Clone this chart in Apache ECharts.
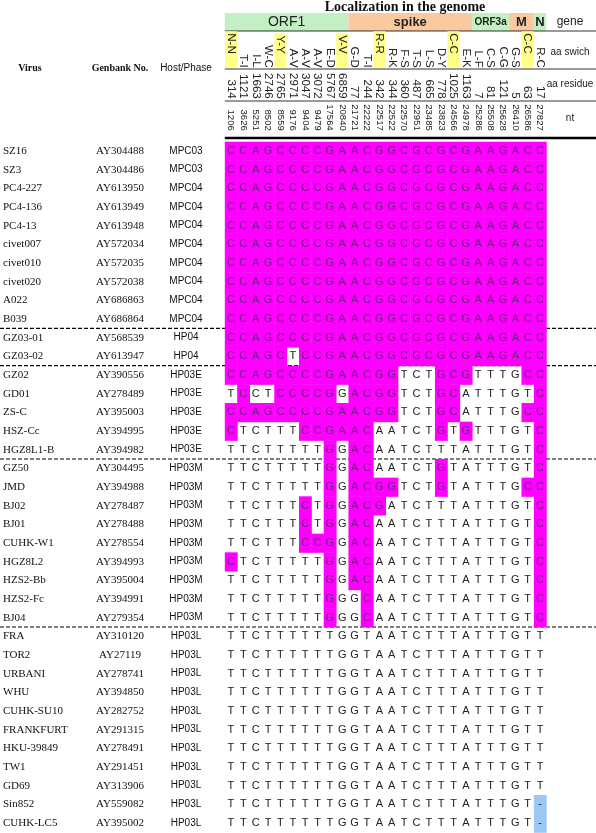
<!DOCTYPE html>
<html><head><meta charset="utf-8">
<script src="https://cdn.jsdelivr.net/npm/echarts@6/dist/echarts.min.js"></script>
<style>html,body{margin:0;padding:0;background:#fff}#c{width:596px;height:833px}</style>
</head><body><div id="c"></div>
<script>
const aaSwitch=['N-N','T-I','I-L','W-C','Y-Y','A-V','A-V','A-V','E-D','V-V','G-D','T-I','R-R','R-K','F-S','T-S','L-S','D-Y','C-C','E-K','L-F','C-S','C-G','G-S','C-C','R-C'];
const aaYellow=[0,4,9,12,18,24];
const aaResidue=['314','1121','1663','2746','2765','2971','3047','3072','5767','6859','77','244','342','344','360','487','665','778','1025','1163','7','81','121','5','63','17'];
const ntPos=['1206','3626','5251','8502','8559','9176','9404','9479','17564','20840','21721','22222','22517','22522','22570','22951','23485','23823','24566','24978','25286','25508','25628','26410','26586','27827'];
const genes=[['ORF1',0,10,'#c2f0c2'],['spike',10,10,'#fbc9a0'],['ORF3a',20,3,'#c2f0c2'],['M',23,2,'#fbc9a0'],['N',25,1,'#c2f0c2']];
const viruses=['SZ16','SZ3','PC4-227','PC4-136','PC4-13','civet007','civet010','civet020','A022','B039','GZ03-01','GZ03-02','GZ02','GD01','ZS-C','HSZ-Cc','HGZ8L1-B','GZ50','JMD','BJ02','BJ01','CUHK-W1','HGZ8L2','HZS2-Bb','HZS2-Fc','BJ04','FRA','TOR2','URBANI','WHU','CUHK-SU10','FRANKFURT','HKU-39849','TW1','GD69','Sin852','CUHK-LC5'];
const genbank=['AY304488','AY304486','AY613950','AY613949','AY613948','AY572034','AY572035','AY572038','AY686863','AY686864','AY568539','AY613947','AY390556','AY278489','AY395003','AY394995','AY394982','AY304495','AY394988','AY278487','AY278488','AY278554','AY394993','AY395004','AY394991','AY279354','AY310120','AY27119','AY278741','AY394850','AY282752','AY291315','AY278491','AY291451','AY313906','AY559082','AY395002'];
const hosts=['MPC03','MPC03','MPC04','MPC04','MPC04','MPC04','MPC04','MPC04','MPC04','MPC04','HP04','HP04','HP03E','HP03E','HP03E','HP03E','HP03E','HP03M','HP03M','HP03M','HP03M','HP03M','HP03M','HP03M','HP03M','HP03M','HP03L','HP03L','HP03L','HP03L','HP03L','HP03L','HP03L','HP03L','HP03L','HP03L','HP03L'];
const R='CCAGCCCCGAACGGCGCGCGAAGACC', L='TTCTTTTTTGGTAATCTTTATTTGTT';
const seqs=[R,R,R,R,R,R,R,R,R,R,R,'CCAGCTCCGAACGGCGCGCGAAGACC',
'CCAGCCCCGAACGGTCTGCGTTTGCC','TCCTCCCCGGACGGTCTGCATTTGTC','CCAGCCCCGAACGGTCTGCATTTGCC','CTCTTTCCGAACAATCTGTGTTTGTC','TTCTTTTTGGACAATCTTTATTTGTC',
'TTCTTTTTGGACAATCTGTATTTGTC','TTCTTTTTGGACGGTCTGTATTTGCC','TTCTTTCTGGACGATCTTTATTTGTC','TTCTTTCTGGACAATCTTTATTTGTC','TTCTTTCCGGACAATCTTTATTTGTC','CTCTTTTTGGACAATCTTTATTTGTC','TTCTTTTTGGACAATCTTTATTTGTC','TTCTTTTTGGGCAATCTTTATTTGTC','TTCTTTTTGGGCAATCTTTATTTGTC',
L,L,L,L,L,L,L,L,L,'TTCTTTTTTGGTAATCTTTATTTGT-','TTCTTTTTTGGTAATCTTTATTTGT-'];

const cells=[];
seqs.forEach((s,r)=>{for(let c=0;c<26;c++){const ch=s[c];let h=0;if(ch==='-')h=2;else if(ch===R[c])h=1;cells.push([c,r,ch,h]);}});
const left=viruses.map((v,i)=>[0,i,v,genbank[i],hosts[i]]);

const chart=echarts.init(document.getElementById('c'));
const gridT=141.7,gridL=224.8,gridR=49.8;
const hdr=(d,off,fs)=>({type:'category',data:d,gridIndex:0,position:'top',offset:off,
 axisLine:{show:false},axisTick:{show:false},splitLine:{show:false},
 axisLabel:{interval:0,rotate:90,margin:off>60?1:2,fontSize:fs,color:'#222',fontFamily:'Liberation Sans',
 formatter:(v,i)=>off>60&&aaYellow.includes(i)?'{h|'+v+'}':v,
 rich:{h:{backgroundColor:'#ffff88',padding:[0,14,0,2],fontSize:fs,lineHeight:12}}}});
chart.setOption({
 animation:false,
 grid:{left:gridL,right:gridR,top:gridT,bottom:0.7},
 xAxis:[{type:'value',min:-0.5,max:25.5,show:false},hdr(aaSwitch,73,11.5),hdr(aaResidue,41,11.5),hdr(ntPos,9,9.5)],
 yAxis:{type:'category',data:viruses,inverse:true,show:false},
 series:[{type:'custom',data:cells,renderItem:(p,api)=>{
   const pt=api.coord([api.value(0),api.value(1)]);const sz=api.size([1,1]);const h=api.value(3);
   const ch=[];
   if(h)ch.push({type:'rect',shape:{x:pt[0]-sz[0]/2,y:pt[1]-sz[1]/2,width:sz[0]+0.5,height:sz[1]+0.5},style:{fill:h===2?'#9cc8f4':'#ff00ff'}});
   ch.push({type:'text',x:pt[0],y:pt[1],style:{text:cells[p.dataIndex][2],fill:h===1?'#6a2080':'#222',font:'11px Liberation Sans',align:'center',verticalAlign:'middle'}});
   return {type:'group',children:ch};}},
  {type:'custom',data:left,renderItem:(p,api)=>{
   const pt=api.coord([0,api.value(1)]);const d=left[p.dataIndex];
   return {type:'group',children:[
    {type:'text',x:3,y:pt[1],style:{text:d[2],font:'11px Liberation Serif',fill:'#111',verticalAlign:'middle'}},
    {type:'text',x:120,y:pt[1],style:{text:d[3],font:'11px Liberation Serif',fill:'#111',align:'center',verticalAlign:'middle'}},
    {type:'text',x:186,y:pt[1],style:{text:d[4],font:'10px Liberation Sans',fill:'#111',align:'center',verticalAlign:'middle'}}]};}}]
});
const px=v=>chart.convertToPixel({xAxisIndex:0},v);
const py=i=>chart.convertToPixel({yAxisIndex:0},viruses[i]);
const g=[];
genes.forEach(([n,s,c,col])=>{const x0=px(s-0.5),x1=px(s+c-0.5);
 g.push({type:'rect',shape:{x:x0,y:13,width:x1-x0,height:18},style:{fill:col}});
 g.push({type:'text',x:(x0+x1)/2,y:22,style:{text:n,font:(n==='ORF1'?'':'bold ')+(n==='ORF3a'?'10px':n==='ORF1'?'14px':'13px')+' Liberation Sans',fill:'#222',align:'center',verticalAlign:'middle'}});});
g.push({type:'text',x:405,y:7,style:{text:'Localization in the genome',font:'bold 14px Liberation Serif',fill:'#111',align:'center',verticalAlign:'middle'}});
[['gene',22,12],['aa swich',52,10],['aa residue',84,10],['nt',118,10]].forEach(([t,y,f])=>g.push({type:'text',x:570,y:y,style:{text:t,font:f+'px Liberation Sans',fill:'#222',align:'center',verticalAlign:'middle'}}));
[['Virus',30],['Genbank No.',120],['Host/Phase',186]].forEach(([t,x])=>g.push({type:'text',x:x,y:68,style:{text:t,font:(t==='Host/Phase'?'10px Liberation Sans':'bold 10px Liberation Serif'),fill:'#111',align:'center',verticalAlign:'middle'}}));
[[31,0.8],[69,0.8],[101,0.8],[138,2.5]].forEach(([y,w])=>g.push({type:'line',shape:{x1:gridL,y1:y,x2:596,y2:y},style:{stroke:'#000',lineWidth:w}}));
[9,11,16,25].forEach(i=>{const y=(py(i)+py(i+1))/2;g.push({type:'line',shape:{x1:0,y1:y,x2:596,y2:y},style:{stroke:'#000',lineWidth:1.2,lineDash:[4,2]}});});
chart.setOption({graphic:g});
</script></body></html>
